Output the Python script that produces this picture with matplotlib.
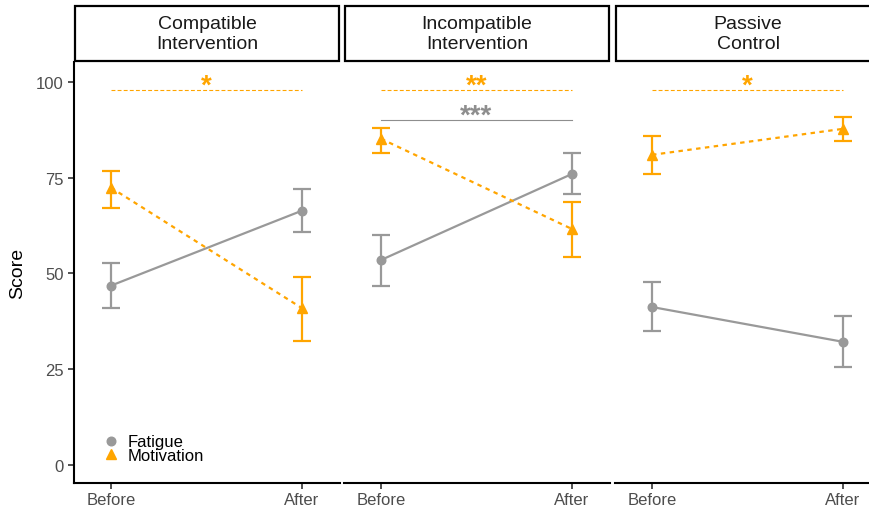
import matplotlib
matplotlib.use("Agg")
import matplotlib.pyplot as plt
from matplotlib.lines import Line2D
from matplotlib.patches import Rectangle
import numpy as np

plt.rcParams['font.family'] = ['Liberation Sans', 'DejaVu Sans']

# ---------------- data ----------------
conditions = ["Compatible\nIntervention", "Incompatible\nIntervention", "Passive\nControl"]
times = ["Before", "After"]

fatigue_mean = [[46.8, 66.4], [53.5, 76.0], [41.2, 32.1]]
fatigue_lower = [[41.0, 60.9], [46.7, 70.7], [34.8, 25.4]]
fatigue_upper = [[52.6, 72.1], [60.1, 81.4], [47.8, 38.9]]

motivation_mean = [[72.4, 40.9], [85.2, 61.6], [81.0, 87.8]]
motivation_lower = [[67.1, 32.3], [81.4, 54.2], [75.9, 84.6]]
motivation_upper = [[76.9, 49.0], [88.0, 68.6], [85.8, 90.9]]

sig_motivation = ["*", "**", "*"]
sig_motivation_y = [98.0, 98.0, 98.0]
sig_fatigue = ["", "***", ""]
sig_fatigue_y = [90.1, 90.1, 90.1]

y_ticks = [0, 25, 50, 75, 100]

# ---------------- style ----------------
ORANGE = "#FFA500"
GREY = "#999999"
SIGGREY = "#8E8E8E"
TICKCOL = "#4D4D4D"

W, H = 869, 510
fig = plt.figure(figsize=(W / 100, H / 100), dpi=100)

panel_left = [74, 344, 615]
panel_w = 266
ax_top, ax_bot = 63.3, 484.3
strip_top = 6.0

x = np.arange(1, len(times) + 1)

for i, cond in enumerate(conditions):
    l = panel_left[i]
    ax = fig.add_axes([l / W, (H - ax_bot) / H, panel_w / W, (ax_bot - ax_top) / H])
    ax.set_xlim(0.806, 2.199)
    ax.set_ylim(-4.9, 105.2)

    fm = np.array(fatigue_mean[i]); fl = np.array(fatigue_lower[i]); fu = np.array(fatigue_upper[i])
    mm = np.array(motivation_mean[i]); ml = np.array(motivation_lower[i]); mu = np.array(motivation_upper[i])

    ax.errorbar(x, fm, yerr=[fm - fl, fu - fm], fmt='none', ecolor=GREY,
                elinewidth=1.6, capsize=6.5, capthick=1.6, zorder=2)
    ax.plot(x, fm, color=GREY, lw=1.6, marker='o', markersize=6.2, zorder=3)

    ax.errorbar(x, mm, yerr=[mm - ml, mu - mm], fmt='none', ecolor=ORANGE,
                elinewidth=1.6, capsize=6.5, capthick=1.6, zorder=4)
    ax.plot(x, mm, color=ORANGE, lw=1.6, ls=(0, (2.0, 2.0)), marker='^',
            markersize=7.5, zorder=5)

    # significance brackets
    if sig_motivation[i]:
        ax.plot([x[0], x[1]], [sig_motivation_y[i]] * 2, color=ORANGE, lw=0.8,
                ls=(0, (3.5, 2.0)), zorder=2)
        ax.text(x.mean(), sig_motivation_y[i] - 0.6, sig_motivation[i], color=ORANGE,
                fontsize=20, fontweight='bold', ha='center', va='baseline')
    if sig_fatigue[i]:
        ax.plot([x[0], x[1]], [sig_fatigue_y[i]] * 2, color=SIGGREY, lw=0.8, zorder=2)
        ax.text(x.mean(), sig_fatigue_y[i] - 0.6, sig_fatigue[i], color=SIGGREY,
                fontsize=20, fontweight='bold', ha='center', va='baseline')

    ax.set_xticks(x)
    ax.set_xticklabels(times)
    for s in ['top', 'right']:
        ax.spines[s].set_visible(False)
    ax.spines['bottom'].set_linewidth(1.5)
    ax.spines['bottom'].set_color('black')
    ax.tick_params(axis='x', length=4, width=1.2, color='#333333', labelsize=12,
                   labelcolor=TICKCOL, pad=2)
    if i == 0:
        ax.set_yticks(y_ticks)
        ax.spines['left'].set_linewidth(1.5)
        ax.spines['left'].set_color('black')
        ax.tick_params(axis='y', length=4, width=1.2, color='#333333', labelsize=12,
                       labelcolor=TICKCOL, pad=3.5)
        handles = [
            Line2D([], [], color=GREY, marker='o', ls='none', markersize=6.2),
            Line2D([], [], color=ORANGE, marker='^', ls='none', markersize=7.5),
        ]
        ax.legend(handles, ["Fatigue", "Motivation"], loc='lower left',
                  bbox_to_anchor=(0.108, 0.049), frameon=False, fontsize=12,
                  handlelength=1.0, handletextpad=0.5, labelspacing=-0.1,
                  borderpad=0, borderaxespad=0)
    else:
        ax.spines['left'].set_visible(False)
        ax.set_yticks([])

    # strip
    sax = fig.add_axes([l / W, (H - ax_top) / H, panel_w / W, (ax_top - strip_top) / H])
    sax.set_xlim(0, 1); sax.set_ylim(0, 1)
    sax.axis('off')
    sax.add_patch(Rectangle((0.004, 0.02), 0.992, 0.96, transform=sax.transAxes,
                            facecolor='white', edgecolor='black', lw=1.6, clip_on=False))
    sax.text(0.5, 0.5, cond, ha='center', va='center', fontsize=14, color='#1A1A1A',
             linespacing=1.2)

fig.text(18 / W, 1 - 273 / H, "Score", rotation=90, ha='center', va='center',
         fontsize=14, color='black')

fig.savefig("out.png", dpi=100)
